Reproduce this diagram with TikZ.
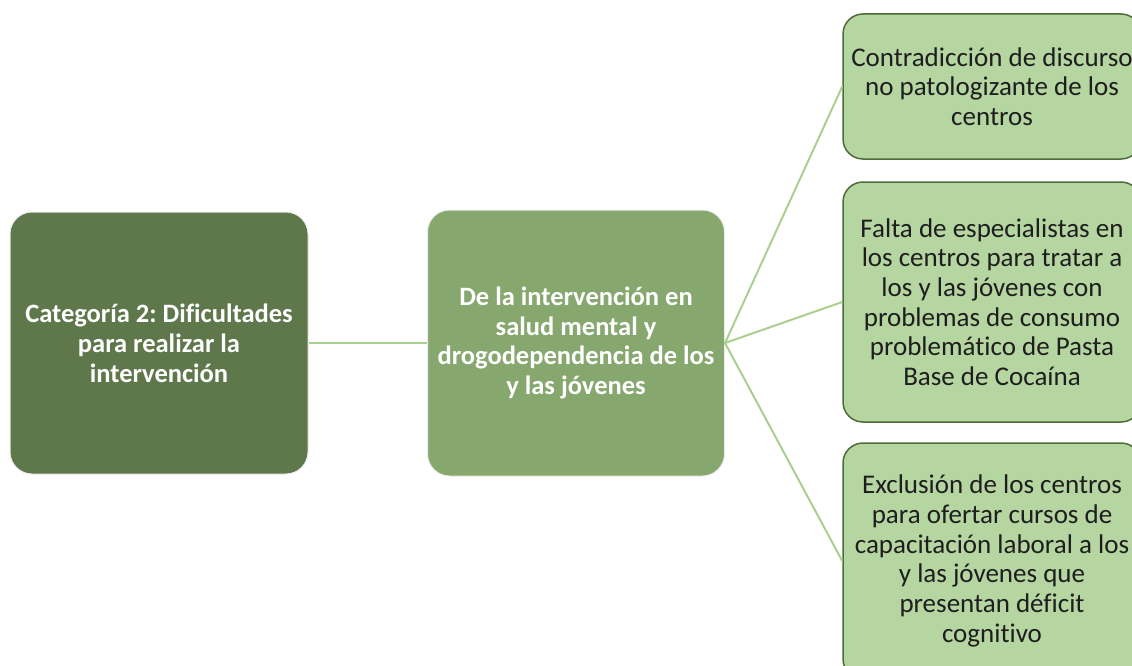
\documentclass[tikz,border=0pt]{standalone}
\usepackage{fontspec}
\setmainfont{Carlito}[Ligatures=NoCommon]
\frenchspacing
\definecolor{darkbox}{HTML}{5E784B}
\definecolor{midbox}{HTML}{86A86F}
\definecolor{lightbox}{HTML}{B5D5A1}
\definecolor{lightborder}{HTML}{4E6B3A}
\definecolor{conn}{HTML}{A9D08E}
\definecolor{txt}{HTML}{1E1E1E}
\tikzset{
  x=1pt, y=-1pt,
  boxbase/.style={rectangle, rounded corners=22pt, align=center, inner sep=0pt},
  darkstyle/.style={boxbase, fill=darkbox, draw=white!85!gray, line width=1pt, text=white,
     font=\fontsize{26.5}{30}\selectfont\bfseries},
  midstyle/.style={boxbase, fill=midbox, draw=white!85!gray, line width=1pt, text=white,
     font=\fontsize{26.5}{29.5}\selectfont\bfseries},
  leafstyle/.style={boxbase, rounded corners=20pt, fill=lightbox, draw=lightborder, line width=1.5pt, text=txt,
     font=\fontsize{27}{29.7}\selectfont},
  link/.style={draw=conn, line width=2pt}
}
\begin{document}
\begin{tikzpicture}
\useasboundingbox (0,0) rectangle (1132,666);
\node[darkstyle, minimum width=298pt, minimum height=262pt] (cat) at (159,343)
  {Categoría 2: Dificultades\\para realizar la\\intervención};
\node[midstyle, minimum width=297pt, minimum height=266pt] (mid) at (576,343)
  {De la intervención en\\salud mental y\\drogodependencia de los\\y las jóvenes};
\node[leafstyle, minimum width=298pt, minimum height=145pt] (l1) at (992,86.5)
  {Contradicción de discurso\\no patologizante de los\\centros};
\node[leafstyle, minimum width=298pt, minimum height=240pt] (l2) at (992,302)
  {Falta de especialistas en\\los centros para tratar a\\los y las jóvenes con\\problemas de consumo\\problemático de Pasta\\Base de Cocaína};
\node[leafstyle, minimum width=298pt, minimum height=236pt] (l3) at (992,561)
  {Exclusión de los centros\\para ofertar cursos de\\capacitación laboral a los\\y las jóvenes que\\presentan déficit\\cognitivo};
\draw[link] (cat.east) -- (mid.west);
\draw[link] (mid.east) -- (l1.west);
\draw[link] (mid.east) -- (l2.west);
\draw[link] (mid.east) -- (l3.west);
\end{tikzpicture}
\end{document}
